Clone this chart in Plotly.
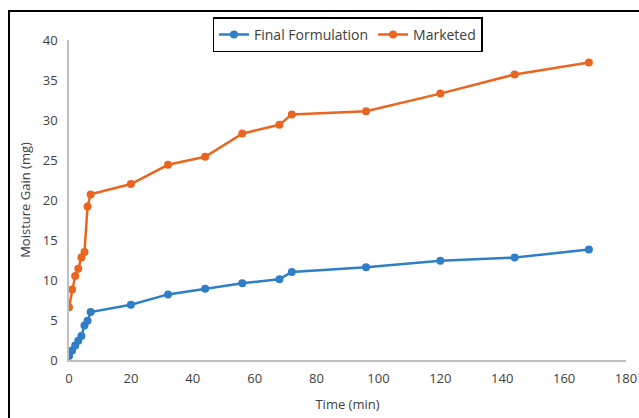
import plotly.graph_objects as go

time_min = [0, 1, 2, 3, 4, 5, 6, 7, 20, 32, 44, 56, 68, 72, 96, 120, 144, 168]
final_formulation = [0.5, 1.2, 1.8, 2.4, 3.0, 4.3, 4.9, 6.0, 6.9, 8.2, 8.9, 9.6, 10.1, 11.0, 11.6, 12.4, 12.8, 13.8]
marketed = [6.6, 8.8, 10.5, 11.4, 12.8, 13.5, 19.2, 20.7, 22.0, 24.4, 25.4, 28.3, 29.4, 30.7, 31.1, 33.3, 35.7, 37.2]

BLUE = "#2F7EC7"
ORANGE = "#EA6620"
FONT = "Open Sans"
TXT = "#404040"

fig = go.Figure()
fig.add_trace(go.Scatter(x=time_min, y=final_formulation, mode="lines+markers",
                         name="Final Formulation",
                         line=dict(color=BLUE, width=2.5),
                         marker=dict(color=BLUE, size=8)))
fig.add_trace(go.Scatter(x=time_min, y=marketed, mode="lines+markers",
                         name="Marketed",
                         line=dict(color=ORANGE, width=2.5),
                         marker=dict(color=ORANGE, size=8)))

fig.update_layout(
    width=639, height=418,
    margin=dict(l=69, r=13, t=40, b=58, autoexpand=False),
    paper_bgcolor="white", plot_bgcolor="white",
    font=dict(family=FONT, size=13, color=TXT),
    showlegend=True,
    legend=dict(orientation="h", x=0.5, xanchor="center", y=1.016, yanchor="middle",
                bordercolor="black", borderwidth=1.5, bgcolor="white",
                font=dict(size=14, color=TXT), itemwidth=30, tracegroupgap=0),
    xaxis=dict(range=[0, 180], dtick=20, tick0=0, showgrid=False, zeroline=False,
               showline=True, linecolor="#BFBFBF", linewidth=1.5, ticks="",
               automargin=False, ticklabelstandoff=6,
               title=dict(text="Time (min)", standoff=14, font=dict(size=13, color=TXT)),
               tickfont=dict(size=13, color=TXT)),
    yaxis=dict(range=[0, 40], dtick=5, tick0=0, showgrid=False, zeroline=False,
               showline=True, linecolor="#BFBFBF", linewidth=1.5, ticks="",
               automargin=False, ticklabelstandoff=7,
               title=dict(text="Moisture Gain (mg)", standoff=9, font=dict(size=13, color=TXT)),
               tickfont=dict(size=13, color=TXT)),
    shapes=[dict(type="rect", xref="paper", yref="paper",
                 x0=(9 - 69) / 557, x1=1.2, y0=-0.5, y1=(360 - 11) / 320,
                 line=dict(color="black", width=2), fillcolor="rgba(0,0,0,0)", layer="below")],
)

fig.write_html("out.html", config={"displayModeBar": False},
               post_script="document.body.style.margin='0';document.body.style.overflow='hidden';")
